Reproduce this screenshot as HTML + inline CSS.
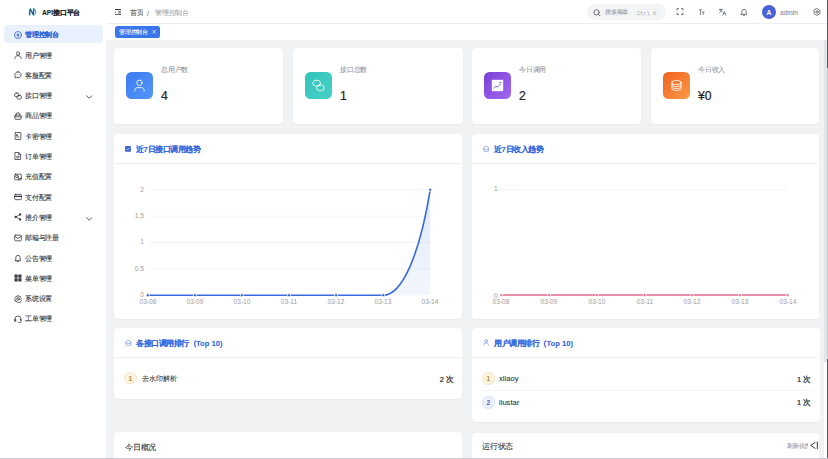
<!DOCTYPE html>
<html><head><meta charset="utf-8">
<style>
*{box-sizing:border-box;margin:0;padding:0}
html,body{width:828px;height:459px;overflow:hidden;background:#fff;font-family:"Liberation Sans",sans-serif;color:#303133}
.abs{position:absolute}
.t{position:absolute;white-space:nowrap}
.card{position:absolute;background:#fff;border-radius:4px;box-shadow:0 0.5px 1.5px rgba(0,0,0,.035)}
</style></head><body>

<div class="abs" style="left:106.4px;top:39.9px;width:717.6px;height:419.1px;background:#f1f2f4"></div>
<div class="abs" style="left:107px;top:22.6px;width:721px;height:0.8px;background:#eceef2"></div>
<svg class="abs" style="left:0;top:0;width:50px;height:24px" viewBox="0 0 50 24"><ellipse cx="32" cy="11.9" rx="3.9" ry="3.7" fill="#d6f1f8"/><path d="M29.4 15.3L30.2 8.8L33.3 14.7L33.9 8.4" fill="none" stroke="#2b5a84" stroke-width="1.3" stroke-linejoin="round"/><path d="M34 8.7C36.4 9.9 36.4 14.3 33.6 15.3" fill="none" stroke="#4f9cc0" stroke-width="1"/></svg>
<div class="t" style="left:42.00px;top:7.71px;font-size:26.60px;line-height:39.90px;color:#22262c;font-weight:bold;transform:scale(0.25,0.25);transform-origin:0 0;-webkit-text-stroke:0.45px #22262c">API接口平台</div>
<div class="abs" style="left:4.3px;top:24.90px;width:98.7px;height:18.6px;border-radius:4px;background:#e8f1fd"></div>
<div class="abs" style="color:#2d62d6"><svg class="abs" style="left:14.2px;top:30.6px;width:8px;height:8px;stroke-width:2.4" viewBox="0 0 24 24" fill="none" stroke="currentColor" stroke-width="2" stroke-linecap="round" stroke-linejoin="round"><circle cx="12" cy="12" r="10.5"/><path d="M12 18v-6"/><path d="M8 12.5l4-5 4 5z" fill="currentColor" stroke-width="1"/></svg></div>
<div class="t" style="left:24.50px;top:30.24px;font-size:27.00px;line-height:40.50px;color:#2d62d6;font-weight:bold;transform:scale(0.25,0.25);transform-origin:0 0;-webkit-text-stroke:0.3px #2d62d6">管理控制台</div>
<div class="abs" style="color:#363a41"><svg class="abs" style="left:14.2px;top:50.9px;width:8px;height:8px;stroke-width:2.4" viewBox="0 0 24 24" fill="none" stroke="currentColor" stroke-width="2" stroke-linecap="round" stroke-linejoin="round"><circle cx="12" cy="7.5" r="5"/><path d="M2.5 22.5c0-5.500 4.3-8.500 9.5-8.500s9.5 3 9.5 8.500"/></svg></div>
<div class="t" style="left:24.50px;top:50.54px;font-size:27.00px;line-height:40.50px;color:#363a41;font-weight:400;transform:scale(0.25,0.25);transform-origin:0 0;-webkit-text-stroke:0.45px #363a41">用户管理</div>
<div class="abs" style="color:#363a41"><svg class="abs" style="left:14.2px;top:71.2px;width:8px;height:8px;stroke-width:2.4" viewBox="0 0 24 24" fill="none" stroke="currentColor" stroke-width="2" stroke-linecap="round" stroke-linejoin="round"><path d="M12 2.5c5.2 0 9.5 3.9 9.5 8.8s-4.3 8.8-9.5 8.8c-1.5 0-2.9-.3-4.2-.9L3 21l1.2-4.3c-1-1.5-1.7-3.4-1.7-5.4 0-4.900 4.300-8.800 9.500-8.800z"/><circle cx="8" cy="11.3" r="1.1" fill="currentColor" stroke="none"/><circle cx="12" cy="11.3" r="1.1" fill="currentColor" stroke="none"/><circle cx="16" cy="11.3" r="1.1" fill="currentColor" stroke="none"/></svg></div>
<div class="t" style="left:24.50px;top:70.84px;font-size:27.00px;line-height:40.50px;color:#363a41;font-weight:400;transform:scale(0.25,0.25);transform-origin:0 0;-webkit-text-stroke:0.45px #363a41">客服配置</div>
<div class="abs" style="color:#363a41"><svg class="abs" style="left:14.2px;top:91.5px;width:8px;height:8px;stroke-width:2.4" viewBox="0 0 24 24" fill="none" stroke="currentColor" stroke-width="2" stroke-linecap="round" stroke-linejoin="round"><rect x="1.5" y="3" width="14" height="11" rx="5.5"/><rect x="8.5" y="10" width="14" height="11" rx="5.5"/></svg></div>
<div class="t" style="left:24.50px;top:91.14px;font-size:27.00px;line-height:40.50px;color:#363a41;font-weight:400;transform:scale(0.25,0.25);transform-origin:0 0;-webkit-text-stroke:0.45px #363a41">接口管理</div>
<div class="abs" style="color:#4a4f57"><svg class="abs" style="left:85.8px;top:95.0px;width:6.4px;height:4px;stroke-width:3.4" viewBox="0 0 24 13" fill="none" stroke="currentColor" stroke-width="2" stroke-linecap="round" stroke-linejoin="round"><path d="M2 2l10 9 10-9"/></svg></div>
<div class="abs" style="color:#363a41"><svg class="abs" style="left:14.2px;top:111.8px;width:8px;height:8px;stroke-width:2.4" viewBox="0 0 24 24" fill="none" stroke="currentColor" stroke-width="2" stroke-linecap="round" stroke-linejoin="round"><rect x="2.5" y="9" width="19" height="13" rx="2"/><path d="M7 9V7a5 5 0 0 1 10 0v2M2.5 14.500h19"/></svg></div>
<div class="t" style="left:24.50px;top:111.44px;font-size:27.00px;line-height:40.50px;color:#363a41;font-weight:400;transform:scale(0.25,0.25);transform-origin:0 0;-webkit-text-stroke:0.45px #363a41">商品管理</div>
<div class="abs" style="color:#363a41"><svg class="abs" style="left:14.2px;top:132.1px;width:8px;height:8px;stroke-width:2.4" viewBox="0 0 24 24" fill="none" stroke="currentColor" stroke-width="2" stroke-linecap="round" stroke-linejoin="round"><rect x="3.500" y="1.500" width="17" height="21" rx="1.500"/><path d="M8 8h3v3H8zM8 15h7"/></svg></div>
<div class="t" style="left:24.50px;top:131.74px;font-size:27.00px;line-height:40.50px;color:#363a41;font-weight:400;transform:scale(0.25,0.25);transform-origin:0 0;-webkit-text-stroke:0.45px #363a41">卡密管理</div>
<div class="abs" style="color:#363a41"><svg class="abs" style="left:14.2px;top:152.4px;width:8px;height:8px;stroke-width:2.4" viewBox="0 0 24 24" fill="none" stroke="currentColor" stroke-width="2" stroke-linecap="round" stroke-linejoin="round"><path d="M4 1.500h10l6 6v15H4z"/><path d="M14 1.500v6h6M8 13h8M8 17.500h6"/></svg></div>
<div class="t" style="left:24.50px;top:152.04px;font-size:27.00px;line-height:40.50px;color:#363a41;font-weight:400;transform:scale(0.25,0.25);transform-origin:0 0;-webkit-text-stroke:0.45px #363a41">订单管理</div>
<div class="abs" style="color:#363a41"><svg class="abs" style="left:14.2px;top:172.7px;width:8px;height:8px;stroke-width:2.4" viewBox="0 0 24 24" fill="none" stroke="currentColor" stroke-width="2" stroke-linecap="round" stroke-linejoin="round"><rect x="2" y="3.500" width="20" height="17" rx="2.500"/><circle cx="9" cy="10" r="4"/><path d="M12 13l3 3M14 20.500v-4h8"/></svg></div>
<div class="t" style="left:24.50px;top:172.34px;font-size:27.00px;line-height:40.50px;color:#363a41;font-weight:400;transform:scale(0.25,0.25);transform-origin:0 0;-webkit-text-stroke:0.45px #363a41">充值配置</div>
<div class="abs" style="color:#363a41"><svg class="abs" style="left:14.2px;top:193.0px;width:8px;height:8px;stroke-width:2.4" viewBox="0 0 24 24" fill="none" stroke="currentColor" stroke-width="2" stroke-linecap="round" stroke-linejoin="round"><rect x="2" y="4" width="20" height="16" rx="2.500"/><path d="M2 10h20" stroke-width="4"/></svg></div>
<div class="t" style="left:24.50px;top:192.64px;font-size:27.00px;line-height:40.50px;color:#363a41;font-weight:400;transform:scale(0.25,0.25);transform-origin:0 0;-webkit-text-stroke:0.45px #363a41">支付配置</div>
<div class="abs" style="color:#363a41"><svg class="abs" style="left:14.2px;top:213.3px;width:8px;height:8px;stroke-width:2.4" viewBox="0 0 24 24" fill="none" stroke="currentColor" stroke-width="2" stroke-linecap="round" stroke-linejoin="round"><circle cx="18.500" cy="4.500" r="3.500" fill="currentColor" stroke="none"/><circle cx="5" cy="12" r="3.500" fill="currentColor" stroke="none"/><circle cx="18.500" cy="19.500" r="3.500" fill="currentColor" stroke="none"/><path d="M5 12l13.500 7.500M5 12l13.500-7.500" stroke-width="2.200"/></svg></div>
<div class="t" style="left:24.50px;top:212.94px;font-size:27.00px;line-height:40.50px;color:#363a41;font-weight:400;transform:scale(0.25,0.25);transform-origin:0 0;-webkit-text-stroke:0.45px #363a41">推介管理</div>
<div class="abs" style="color:#4a4f57"><svg class="abs" style="left:85.8px;top:216.8px;width:6.4px;height:4px;stroke-width:3.4" viewBox="0 0 24 13" fill="none" stroke="currentColor" stroke-width="2" stroke-linecap="round" stroke-linejoin="round"><path d="M2 2l10 9 10-9"/></svg></div>
<div class="abs" style="color:#363a41"><svg class="abs" style="left:14.2px;top:233.6px;width:8px;height:8px;stroke-width:2.4" viewBox="0 0 24 24" fill="none" stroke="currentColor" stroke-width="2" stroke-linecap="round" stroke-linejoin="round"><rect x="2" y="3.500" width="20" height="17" rx="3"/><path d="M2.500 7l9.500 6.500L21.500 7"/></svg></div>
<div class="t" style="left:24.50px;top:233.24px;font-size:27.00px;line-height:40.50px;color:#363a41;font-weight:400;transform:scale(0.25,0.25);transform-origin:0 0;-webkit-text-stroke:0.45px #363a41">邮箱与注册</div>
<div class="abs" style="color:#363a41"><svg class="abs" style="left:14.2px;top:253.9px;width:8px;height:8px;stroke-width:2.4" viewBox="0 0 24 24" fill="none" stroke="currentColor" stroke-width="2" stroke-linecap="round" stroke-linejoin="round"><path d="M5.500 18V10.500a6.500 6.500 0 0 1 13 0V18l2 2H3.500z"/><path d="M10 22.500h4"/></svg></div>
<div class="t" style="left:24.50px;top:253.54px;font-size:27.00px;line-height:40.50px;color:#363a41;font-weight:400;transform:scale(0.25,0.25);transform-origin:0 0;-webkit-text-stroke:0.45px #363a41">公告管理</div>
<div class="abs" style="color:#363a41"><svg class="abs" style="left:14.2px;top:274.2px;width:8px;height:8px;stroke-width:2.4" viewBox="0 0 24 24" fill="none" stroke="currentColor" stroke-width="2" stroke-linecap="round" stroke-linejoin="round"><rect x="1.500" y="1.500" width="9.500" height="9.500" rx="1" fill="currentColor" stroke="none"/><rect x="13" y="1.500" width="9.500" height="9.500" rx="1" fill="currentColor" stroke="none"/><rect x="1.500" y="13" width="9.500" height="9.500" rx="1" fill="currentColor" stroke="none"/><rect x="13" y="13" width="9.500" height="9.500" rx="1" fill="currentColor" stroke="none"/></svg></div>
<div class="t" style="left:24.50px;top:273.84px;font-size:27.00px;line-height:40.50px;color:#363a41;font-weight:400;transform:scale(0.25,0.25);transform-origin:0 0;-webkit-text-stroke:0.45px #363a41">菜单管理</div>
<div class="abs" style="color:#363a41"><svg class="abs" style="left:14.2px;top:294.5px;width:8px;height:8px;stroke-width:2.4" viewBox="0 0 24 24" fill="none" stroke="currentColor" stroke-width="2" stroke-linecap="round" stroke-linejoin="round"><path d="M12 1.500l3 2.300 3.700.3.800 3.600L22 10.500l-1.300 3.500 1.300 3.500-2.500 2.700-.8 3.600-3.700.3L12 22.500l-3-2.300-3.700-.3-.8-3.600L2 17.500 3.300 14 2 10.500l2.500-2.700.8-3.600 3.700-.3z" transform="scale(.98) translate(.25 .25)"/><circle cx="12" cy="12" r="4"/></svg></div>
<div class="t" style="left:24.50px;top:294.14px;font-size:27.00px;line-height:40.50px;color:#363a41;font-weight:400;transform:scale(0.25,0.25);transform-origin:0 0;-webkit-text-stroke:0.45px #363a41">系统设置</div>
<div class="abs" style="color:#363a41"><svg class="abs" style="left:14.2px;top:314.8px;width:8px;height:8px;stroke-width:2.4" viewBox="0 0 24 24" fill="none" stroke="currentColor" stroke-width="2" stroke-linecap="round" stroke-linejoin="round"><path d="M3 16v-4a9 9 0 0 1 18 0v4"/><path d="M3 13.500h2.500v5.500H3zM18.500 13.500H21v5.500a3.500 3.500 0 0 1-3.500 3.500H14"/></svg></div>
<div class="t" style="left:24.50px;top:314.44px;font-size:27.00px;line-height:40.50px;color:#363a41;font-weight:400;transform:scale(0.25,0.25);transform-origin:0 0;-webkit-text-stroke:0.45px #363a41">工单管理</div>
<svg class="abs" style="left:115px;top:8.8px;width:6.2px;height:6.4px" viewBox="0 0 6.2 6.4"><rect x="0" y="0" width="6.2" height="1.05" fill="#2f3237"/><rect x="0" y="5.25" width="6.2" height="1.05" fill="#2f3237"/><rect x="3.2" y="2.25" width="3" height="0.9" fill="#55585e"/><rect x="3.2" y="3.45" width="3" height="0.9" fill="#55585e"/><path d="M0.1 2.4L1.2 3.3L0.1 4.2z" fill="#2f3237"/></svg>
<div class="t" style="left:129.70px;top:8.05px;font-size:26.40px;line-height:39.60px;color:#50545b;font-weight:400;transform:scale(0.25,0.25);transform-origin:0 0;-webkit-text-stroke:0.4px #50545b">首页</div>
<div class="t" style="left:147.20px;top:8.75px;font-size:26.40px;line-height:39.60px;color:#8d9199;font-weight:400;transform:scale(0.25,0.25);transform-origin:0 0;-webkit-text-stroke:0.6px #8d9199">/</div>
<div class="t" style="left:154.80px;top:7.97px;font-size:26.80px;line-height:40.20px;color:#a3a6ad;font-weight:400;transform:scale(0.25,0.25);transform-origin:0 0;-webkit-text-stroke:0.35px #a3a6ad">管理控制台</div>
<div class="abs" style="left:586.5px;top:4.3px;width:79px;height:15.3px;border-radius:8px;background:#f4f5f7"></div>
<div style="color:#555a62"><svg class="abs" style="left:592.8px;top:8.8px;width:8px;height:7.6px;stroke-width:2.8" viewBox="0 0 24 24" fill="none" stroke="currentColor" stroke-width="2" stroke-linecap="round" stroke-linejoin="round"><circle cx="10.5" cy="10.5" r="8.3"/><path d="M17 17l4.5 4.5"/></svg></div>
<div class="t" style="left:605.30px;top:7.99px;font-size:23.00px;line-height:34.50px;color:#9ea2a9;font-weight:400;transform:scale(0.25,0.25);transform-origin:0 0;-webkit-text-stroke:0.4px #9ea2a9">搜索菜单</div>
<div class="abs" style="left:635.2px;top:8.6px;width:23.2px;height:7px;border-radius:2px;background:#fbfbfc;border:0.5px solid #eceef1"></div>
<div class="t" style="left:635.20px;top:8.55px;font-size:21.60px;line-height:32.40px;color:#a3a6ad;font-weight:400;transform:scale(0.25,0.25);transform-origin:0 0;width:92.80px;text-align:center;font-family:'Liberation Mono',monospace;-webkit-text-stroke:0.2px #a3a6ad">Ctrl K</div>
<div style="color:#555a62"><svg class="abs" style="left:675.8px;top:8.4px;width:8px;height:7.2px" viewBox="0 0 24 24" fill="none" stroke="currentColor" stroke-width="2" stroke-linecap="round" stroke-linejoin="round"><path d="M2 7V2h5M17 2h5v5M22 17v5h-5M7 22H2v-5" stroke-width="3"/></svg></div>
<div style="color:#555a62"><svg class="abs" style="left:697.6px;top:8.6px;width:7.4px;height:6.6px;stroke-width:2.6;stroke-linecap:butt" viewBox="0 0 24 24" fill="none" stroke="currentColor" stroke-width="2" stroke-linecap="round" stroke-linejoin="round"><path d="M1.5 3h12M7.5 3v19M12.5 11h10M17.5 11v11"/></svg></div>
<div style="color:#555a62"><svg class="abs" style="left:718px;top:8px;width:9px;height:8px" viewBox="0 0 24 24" fill="none" stroke="currentColor" stroke-width="2" stroke-linecap="round" stroke-linejoin="round"><path d="M2 5h10M7 3v2M4 5c1 4 4 6 7 7M10 5c-1 4-4 6-7 8M13 21l4.5-11 4.5 11M14.5 17h6"/></svg></div>
<div style="color:#555a62"><svg class="abs" style="left:739.8px;top:8.2px;width:8px;height:8px;stroke-width:2.4" viewBox="0 0 24 24" fill="none" stroke="currentColor" stroke-width="2" stroke-linecap="round" stroke-linejoin="round"><path d="M5.5 17.5V10.5a6.5 6.5 0 0 1 13 0v7l2 1.5H3.5z"/><path d="M10 22h4"/></svg></div>
<div class="abs" style="left:762.3px;top:4.8px;width:13.8px;height:13.8px;border-radius:50%;background:#4a62d8"></div>
<div class="t" style="left:762.30px;top:7.50px;font-size:27.20px;line-height:40.80px;color:#fff;font-weight:bold;transform:scale(0.25,0.25);transform-origin:0 0;width:55.20px;text-align:center">A</div>
<div class="t" style="left:780.00px;top:6.80px;font-size:30.40px;line-height:45.60px;color:#7d828a;font-weight:400;transform:scale(0.215,0.25);transform-origin:0 0;-webkit-text-stroke:0.15px #7d828a">admin</div>
<div style="color:#555a62"><svg class="abs" style="left:813px;top:8.2px;width:8px;height:8px;stroke-width:2.4" viewBox="0 0 24 24" fill="none" stroke="currentColor" stroke-width="2" stroke-linecap="round" stroke-linejoin="round"><path d="M12 1.8l8.8 5.1v10.2L12 22.2l-8.8-5.1V6.9z"/><circle cx="12" cy="12" r="3.6"/></svg></div>
<div class="abs" style="left:114.6px;top:26.1px;width:45.2px;height:11.6px;border-radius:2.5px;background:#3a76ec"></div>
<div class="t" style="left:118.90px;top:27.55px;font-size:23.20px;line-height:34.80px;color:#fff;font-weight:400;transform:scale(0.25,0.25);transform-origin:0 0;-webkit-text-stroke:0.3px #fff">管理控制台</div>
<svg class="abs" style="left:0;top:0;width:200px;height:40px" viewBox="0 0 200 40"><path d="M152.5 29.9L155.9 33.6M155.9 29.9L152.5 33.6" stroke="#fff" stroke-width="0.75" stroke-opacity=".9"/></svg>
<div class="card" style="left:114.2px;top:47.8px;width:169.3px;height:76.7px"></div>
<div class="abs" style="left:126.00px;top:72.4px;width:26.8px;height:26.9px;border-radius:5.5px;background:linear-gradient(135deg,#3c7cf2,#5396f6)"></div>
<div style="color:#fff"><svg class="abs" style="left:132.9px;top:79.3px;width:13px;height:13px;stroke-width:1.6" viewBox="0 0 24 24" fill="none" stroke="currentColor" stroke-width="2" stroke-linecap="round" stroke-linejoin="round"><circle cx="12" cy="7" r="5"/><path d="M3.5 22.5v-2c0-2.500 2-4.500 4.500-4.500h8c2.500 0 4.500 2 4.500 4.500v2"/></svg></div>
<div class="t" style="left:160.80px;top:64.74px;font-size:27.00px;line-height:40.50px;color:#8d9199;font-weight:400;transform:scale(0.25,0.25);transform-origin:0 0;-webkit-text-stroke:0.15px #8d9199">总用户数</div>
<div class="t" style="left:161.20px;top:87.15px;font-size:48.80px;line-height:73.20px;color:#1f2329;font-weight:400;transform:scale(0.25,0.25);transform-origin:0 0;-webkit-text-stroke:0.9px #1f2329">4</div>
<div class="card" style="left:293.3px;top:47.8px;width:169.5px;height:76.7px"></div>
<div class="abs" style="left:305.10px;top:72.4px;width:26.8px;height:26.9px;border-radius:5.5px;background:linear-gradient(135deg,#34c4bc,#45d0c6)"></div>
<div style="color:#fff"><svg class="abs" style="left:312.0px;top:79.3px;width:13px;height:13px;stroke-width:1.6" viewBox="0 0 24 24" fill="none" stroke="currentColor" stroke-width="2" stroke-linecap="round" stroke-linejoin="round"><rect x="1.5" y="2.5" width="14" height="10.5" rx="5.25"/><rect x="8.5" y="11" width="14" height="10.5" rx="5.25"/></svg></div>
<div class="t" style="left:339.90px;top:64.74px;font-size:27.00px;line-height:40.50px;color:#8d9199;font-weight:400;transform:scale(0.25,0.25);transform-origin:0 0;-webkit-text-stroke:0.15px #8d9199">接口总数</div>
<div class="t" style="left:340.30px;top:87.15px;font-size:48.80px;line-height:73.20px;color:#1f2329;font-weight:400;transform:scale(0.25,0.25);transform-origin:0 0;-webkit-text-stroke:0.9px #1f2329">1</div>
<div class="card" style="left:472.0px;top:47.8px;width:168.9px;height:76.7px"></div>
<div class="abs" style="left:483.80px;top:72.4px;width:26.8px;height:26.9px;border-radius:5.5px;background:linear-gradient(135deg,#7a40d6,#a168f0)"></div>
<div style="color:#fff"><svg class="abs" style="left:490.7px;top:79.3px;width:13px;height:13px;stroke-width:1.6" viewBox="0 0 24 24" fill="none" stroke="currentColor" stroke-width="2" stroke-linecap="round" stroke-linejoin="round"><rect x="1.5" y="1.5" width="21" height="21" fill="#fff" stroke="none"/><path d="M5 17l4-4 3 2 6-6M16 6.5l2.5-.5" stroke="#6a45c8" stroke-width="1.6"/></svg></div>
<div class="t" style="left:518.60px;top:64.74px;font-size:27.00px;line-height:40.50px;color:#8d9199;font-weight:400;transform:scale(0.25,0.25);transform-origin:0 0;-webkit-text-stroke:0.15px #8d9199">今日调用</div>
<div class="t" style="left:519.00px;top:87.15px;font-size:48.80px;line-height:73.20px;color:#1f2329;font-weight:400;transform:scale(0.25,0.25);transform-origin:0 0;-webkit-text-stroke:0.9px #1f2329">2</div>
<div class="card" style="left:651.0px;top:47.8px;width:168.2px;height:76.7px"></div>
<div class="abs" style="left:662.80px;top:72.4px;width:26.8px;height:26.9px;border-radius:5.5px;background:linear-gradient(135deg,#f2621e,#fa9a48)"></div>
<div style="color:#fff"><svg class="abs" style="left:669.7px;top:79.3px;width:13px;height:13px;stroke-width:1.6" viewBox="0 0 24 24" fill="none" stroke="currentColor" stroke-width="2" stroke-linecap="round" stroke-linejoin="round"><ellipse cx="12" cy="6.5" rx="8.5" ry="3.8"/><path d="M3.5 6.5v11c0 2.100 3.800 3.800 8.500 3.800s8.500-1.700 8.500-3.800v-11M3.5 10.300c0 2.100 3.800 3.800 8.500 3.800s8.500-1.700 8.500-3.800M3.5 14c0 2.100 3.800 3.800 8.500 3.800s8.500-1.700 8.500-3.800"/></svg></div>
<div class="t" style="left:697.60px;top:64.74px;font-size:27.00px;line-height:40.50px;color:#8d9199;font-weight:400;transform:scale(0.25,0.25);transform-origin:0 0;-webkit-text-stroke:0.15px #8d9199">今日收入</div>
<div class="t" style="left:698.00px;top:87.15px;font-size:48.80px;line-height:73.20px;color:#1f2329;font-weight:400;transform:scale(0.25,0.25);transform-origin:0 0;-webkit-text-stroke:0.9px #1f2329">¥0</div>
<div class="card" style="left:114.2px;top:134.3px;width:348.3px;height:184.5px"></div>
<div class="abs" style="left:114.2px;top:163.2px;width:348.3px;height:0.8px;background:#eef0f3"></div>
<div class="card" style="left:472.1px;top:134.3px;width:347.3px;height:184.5px"></div>
<div class="abs" style="left:472.1px;top:163.2px;width:347.3px;height:0.8px;background:#eef0f3"></div>
<div style="color:#3a62d8"><svg class="abs" style="left:125.1px;top:146px;width:6px;height:5.8px" viewBox="0 0 24 24" fill="none" stroke="currentColor" stroke-width="2" stroke-linecap="round" stroke-linejoin="round"><rect x="0" y="0" width="24" height="24" rx="2" fill="currentColor" stroke="none"/><path d="M6.5 13l4 3.5 7-8" stroke="#fff" stroke-width="2.6"/></svg></div>
<div class="t" style="left:135.80px;top:143.80px;font-size:30.40px;line-height:45.60px;color:#3466dc;font-weight:bold;transform:scale(0.25,0.25);transform-origin:0 0;-webkit-text-stroke:0.35px #3466dc">近7日接口调用趋势</div>
<div style="color:#7194e8"><svg class="abs" style="left:482.7px;top:145.7px;width:6.2px;height:6.3px;stroke-width:2.8" viewBox="0 0 24 24" fill="none" stroke="currentColor" stroke-width="2" stroke-linecap="round" stroke-linejoin="round"><path d="M3 6c0-2.2 4-4 9-4s9 1.8 9 4v12c0 2.2-4 4-9 4s-9-1.8-9-4z"/><path d="M3 10c0 2.2 4 4 9 4s9-1.8 9-4"/></svg></div>
<div class="t" style="left:493.80px;top:143.80px;font-size:30.40px;line-height:45.60px;color:#3466dc;font-weight:bold;transform:scale(0.25,0.25);transform-origin:0 0;-webkit-text-stroke:0.35px #3466dc">近7日收入趋势</div>
<svg class="abs" style="left:0;top:0;width:828px;height:459px" viewBox="0 0 828 459"><defs><linearGradient id="g1" x1="0" y1="0" x2="0" y2="1"><stop offset="0" stop-color="#3a72e0" stop-opacity=".16"/><stop offset="1" stop-color="#3a72e0" stop-opacity=".06"/></linearGradient></defs><line x1="147.6" x2="430.2" y1="268.8" y2="268.8" stroke="#eef0f3" stroke-width="0.7"/><line x1="147.6" x2="430.2" y1="242.5" y2="242.5" stroke="#eef0f3" stroke-width="0.7"/><line x1="147.6" x2="430.2" y1="216.1" y2="216.1" stroke="#eef0f3" stroke-width="0.7"/><line x1="147.6" x2="430.2" y1="189.8" y2="189.8" stroke="#eef0f3" stroke-width="0.7"/><path d="M383.1 295.2 C403 295.2 420 252 430.2 189.8 L430.2 295.2 Z" fill="url(#g1)"/><path d="M147.6 295.2 L383.1 295.2 C403 295.2 420 252 430.2 189.8" fill="none" stroke="#3a6ae0" stroke-width="1.6"/><circle cx="147.8" cy="295.2" r="1.6" fill="#3a62d8" stroke="#fff" stroke-width="0.8"/><circle cx="194.9" cy="295.2" r="1.6" fill="#3a62d8" stroke="#fff" stroke-width="0.8"/><circle cx="241.9" cy="295.2" r="1.6" fill="#3a62d8" stroke="#fff" stroke-width="0.8"/><circle cx="289.0" cy="295.2" r="1.6" fill="#3a62d8" stroke="#fff" stroke-width="0.8"/><circle cx="336.1" cy="295.2" r="1.6" fill="#3a62d8" stroke="#fff" stroke-width="0.8"/><circle cx="383.1" cy="295.2" r="1.6" fill="#3a62d8" stroke="#fff" stroke-width="0.8"/><circle cx="430.2" cy="189.8" r="1.6" fill="#3a62d8" stroke="#fff" stroke-width="0.8"/><line x1="501.4" x2="787.6" y1="189.6" y2="189.6" stroke="#eef0f3" stroke-width="0.7"/><line x1="501.4" x2="787.6" y1="295.1" y2="295.1" stroke="#e0668a" stroke-width="1.5"/><circle cx="501.4" cy="295.1" r="1.5" fill="#e0668a" stroke="#fff" stroke-width="0.8"/><circle cx="549.1" cy="295.1" r="1.5" fill="#e0668a" stroke="#fff" stroke-width="0.8"/><circle cx="596.8" cy="295.1" r="1.5" fill="#e0668a" stroke="#fff" stroke-width="0.8"/><circle cx="644.5" cy="295.1" r="1.5" fill="#e0668a" stroke="#fff" stroke-width="0.8"/><circle cx="692.2" cy="295.1" r="1.5" fill="#e0668a" stroke="#fff" stroke-width="0.8"/><circle cx="739.9" cy="295.1" r="1.5" fill="#e0668a" stroke="#fff" stroke-width="0.8"/><circle cx="787.6" cy="295.1" r="1.5" fill="#e0668a" stroke="#fff" stroke-width="0.8"/></svg>
<div class="t" style="left:110.00px;top:289.95px;font-size:26.40px;line-height:39.60px;color:#9a9da4;font-weight:400;transform:scale(0.25,0.25);transform-origin:0 0;width:135.60px;text-align:right">0</div>
<div class="t" style="left:110.00px;top:263.55px;font-size:26.40px;line-height:39.60px;color:#9a9da4;font-weight:400;transform:scale(0.25,0.25);transform-origin:0 0;width:135.60px;text-align:right">0.5</div>
<div class="t" style="left:110.00px;top:237.25px;font-size:26.40px;line-height:39.60px;color:#9a9da4;font-weight:400;transform:scale(0.25,0.25);transform-origin:0 0;width:135.60px;text-align:right">1</div>
<div class="t" style="left:110.00px;top:210.85px;font-size:26.40px;line-height:39.60px;color:#9a9da4;font-weight:400;transform:scale(0.25,0.25);transform-origin:0 0;width:135.60px;text-align:right">1.5</div>
<div class="t" style="left:110.00px;top:184.55px;font-size:26.40px;line-height:39.60px;color:#9a9da4;font-weight:400;transform:scale(0.25,0.25);transform-origin:0 0;width:135.60px;text-align:right">2</div>
<div class="t" style="left:470.00px;top:184.35px;font-size:26.40px;line-height:39.60px;color:#9a9da4;font-weight:400;transform:scale(0.25,0.25);transform-origin:0 0;width:110.40px;text-align:right">1</div>
<div class="t" style="left:470.00px;top:290.65px;font-size:26.40px;line-height:39.60px;color:#9a9da4;font-weight:400;transform:scale(0.25,0.25);transform-origin:0 0;width:110.40px;text-align:right">0</div>
<div class="t" style="left:132.80px;top:296.65px;font-size:26.40px;line-height:39.60px;color:#9a9da4;font-weight:400;transform:scale(0.25,0.25);transform-origin:0 0;width:120.00px;text-align:center">03-08</div>
<div class="t" style="left:486.40px;top:296.65px;font-size:26.40px;line-height:39.60px;color:#9a9da4;font-weight:400;transform:scale(0.25,0.25);transform-origin:0 0;width:120.00px;text-align:center">03-08</div>
<div class="t" style="left:179.87px;top:296.65px;font-size:26.40px;line-height:39.60px;color:#9a9da4;font-weight:400;transform:scale(0.25,0.25);transform-origin:0 0;width:120.00px;text-align:center">03-09</div>
<div class="t" style="left:534.10px;top:296.65px;font-size:26.40px;line-height:39.60px;color:#9a9da4;font-weight:400;transform:scale(0.25,0.25);transform-origin:0 0;width:120.00px;text-align:center">03-09</div>
<div class="t" style="left:226.94px;top:296.65px;font-size:26.40px;line-height:39.60px;color:#9a9da4;font-weight:400;transform:scale(0.25,0.25);transform-origin:0 0;width:120.00px;text-align:center">03-10</div>
<div class="t" style="left:581.80px;top:296.65px;font-size:26.40px;line-height:39.60px;color:#9a9da4;font-weight:400;transform:scale(0.25,0.25);transform-origin:0 0;width:120.00px;text-align:center">03-10</div>
<div class="t" style="left:274.01px;top:296.65px;font-size:26.40px;line-height:39.60px;color:#9a9da4;font-weight:400;transform:scale(0.25,0.25);transform-origin:0 0;width:120.00px;text-align:center">03-11</div>
<div class="t" style="left:629.50px;top:296.65px;font-size:26.40px;line-height:39.60px;color:#9a9da4;font-weight:400;transform:scale(0.25,0.25);transform-origin:0 0;width:120.00px;text-align:center">03-11</div>
<div class="t" style="left:321.08px;top:296.65px;font-size:26.40px;line-height:39.60px;color:#9a9da4;font-weight:400;transform:scale(0.25,0.25);transform-origin:0 0;width:120.00px;text-align:center">03-12</div>
<div class="t" style="left:677.20px;top:296.65px;font-size:26.40px;line-height:39.60px;color:#9a9da4;font-weight:400;transform:scale(0.25,0.25);transform-origin:0 0;width:120.00px;text-align:center">03-12</div>
<div class="t" style="left:368.15px;top:296.65px;font-size:26.40px;line-height:39.60px;color:#9a9da4;font-weight:400;transform:scale(0.25,0.25);transform-origin:0 0;width:120.00px;text-align:center">03-13</div>
<div class="t" style="left:724.90px;top:296.65px;font-size:26.40px;line-height:39.60px;color:#9a9da4;font-weight:400;transform:scale(0.25,0.25);transform-origin:0 0;width:120.00px;text-align:center">03-13</div>
<div class="t" style="left:415.22px;top:296.65px;font-size:26.40px;line-height:39.60px;color:#9a9da4;font-weight:400;transform:scale(0.25,0.25);transform-origin:0 0;width:120.00px;text-align:center">03-14</div>
<div class="t" style="left:772.60px;top:296.65px;font-size:26.40px;line-height:39.60px;color:#9a9da4;font-weight:400;transform:scale(0.25,0.25);transform-origin:0 0;width:120.00px;text-align:center">03-14</div>
<div class="card" style="left:114.2px;top:327.9px;width:348.3px;height:70.7px"></div>
<div class="abs" style="left:114.2px;top:357px;width:348.3px;height:0.8px;background:#eef0f3"></div>
<div class="card" style="left:472.1px;top:327.9px;width:347.5px;height:94.5px"></div>
<div class="abs" style="left:472.1px;top:357px;width:347.3px;height:0.8px;background:#eef0f3"></div>
<div class="abs" style="left:480px;top:389.8px;width:334px;height:0.6px;background:#f5f6f8"></div>
<div style="color:#7194e8"><svg class="abs" style="left:125.1px;top:339.5px;width:6.7px;height:6.3px;stroke-width:2.8" viewBox="0 0 24 24" fill="none" stroke="currentColor" stroke-width="2" stroke-linecap="round" stroke-linejoin="round"><path d="M3 6c0-2.2 4-4 9-4s9 1.8 9 4v12c0 2.2-4 4-9 4s-9-1.8-9-4z"/><path d="M3 10c0 2.2 4 4 9 4s9-1.8 9-4"/></svg></div>
<div class="t" style="left:136.20px;top:337.70px;font-size:30.40px;line-height:45.60px;color:#3466dc;font-weight:bold;transform:scale(0.25,0.25);transform-origin:0 0;-webkit-text-stroke:0.35px #3466dc">各接口调用排行（Top 10)</div>
<div style="color:#7194e8"><svg class="abs" style="left:482.7px;top:339.4px;width:6.2px;height:6.4px;stroke-width:2.8" viewBox="0 0 24 24" fill="none" stroke="currentColor" stroke-width="2" stroke-linecap="round" stroke-linejoin="round"><circle cx="12" cy="7.5" r="5.5"/><path d="M2.5 23c0-5 4.3-8.5 9.5-8.5s9.5 3.5 9.5 8.5"/></svg></div>
<div class="t" style="left:493.60px;top:337.70px;font-size:30.40px;line-height:45.60px;color:#3466dc;font-weight:bold;transform:scale(0.25,0.25);transform-origin:0 0;-webkit-text-stroke:0.35px #3466dc">用户调用排行（Top 10)</div>
<div class="abs" style="left:124.1px;top:371.9px;width:12.6px;height:12.6px;border-radius:50%;background:#fdf3de;border:0.7px solid #f6e6c2"></div>
<div class="t" style="left:124.10px;top:374.15px;font-size:26.40px;line-height:39.60px;color:#b8893a;font-weight:bold;transform:scale(0.25,0.25);transform-origin:0 0;width:50.40px;text-align:center">1</div>
<div class="t" style="left:142.30px;top:372.88px;font-size:28.40px;line-height:42.60px;color:#303133;font-weight:400;transform:scale(0.25,0.25);transform-origin:0 0;-webkit-text-stroke:0.3px #303133">去水印解析</div>
<div class="t" style="left:402.60px;top:373.27px;font-size:31.60px;line-height:47.40px;color:#25282e;font-weight:bold;transform:scale(0.2375,0.25);transform-origin:0 0;width:212.80px;text-align:right"><span style="font-weight:400;-webkit-text-stroke:0.9px #25282e">2</span><span style="margin-left:9px"></span>次</div>
<div class="abs" style="left:482px;top:372.1px;width:12.6px;height:12.6px;border-radius:50%;background:#fdf3de;border:0.7px solid #f6e6c2"></div>
<div class="t" style="left:482.00px;top:374.35px;font-size:26.40px;line-height:39.60px;color:#b8893a;font-weight:bold;transform:scale(0.25,0.25);transform-origin:0 0;width:50.40px;text-align:center">1</div>
<div class="t" style="left:499.10px;top:372.70px;font-size:30.40px;line-height:45.60px;color:#303133;font-weight:400;transform:scale(0.25,0.25);transform-origin:0 0;-webkit-text-stroke:0.3px #303133">xliaoy</div>
<div class="t" style="left:762.60px;top:373.27px;font-size:31.60px;line-height:47.40px;color:#25282e;font-weight:bold;transform:scale(0.2375,0.25);transform-origin:0 0;width:202.00px;text-align:right"><span style="font-weight:400;-webkit-text-stroke:0.9px #25282e">1</span><span style="margin-left:9px"></span>次</div>
<div class="abs" style="left:482px;top:396.0px;width:12.6px;height:12.6px;border-radius:50%;background:#eaf1fd;border:0.7px solid #d6e3f8"></div>
<div class="t" style="left:482.00px;top:398.25px;font-size:26.40px;line-height:39.60px;color:#4a66b0;font-weight:bold;transform:scale(0.25,0.25);transform-origin:0 0;width:50.40px;text-align:center">2</div>
<div class="t" style="left:499.10px;top:396.60px;font-size:30.40px;line-height:45.60px;color:#303133;font-weight:400;transform:scale(0.25,0.25);transform-origin:0 0;-webkit-text-stroke:0.3px #303133">liustar</div>
<div class="t" style="left:762.60px;top:396.27px;font-size:31.60px;line-height:47.40px;color:#25282e;font-weight:bold;transform:scale(0.2375,0.25);transform-origin:0 0;width:202.00px;text-align:right"><span style="font-weight:400;-webkit-text-stroke:0.9px #25282e">1</span><span style="margin-left:9px"></span>次</div>
<div class="card" style="left:114.2px;top:432.4px;width:348.3px;height:40px"></div>
<div class="card" style="left:472.1px;top:432.8px;width:347.3px;height:40px"></div>
<div class="t" style="left:124.60px;top:441.73px;font-size:30.80px;line-height:46.20px;color:#303133;font-weight:400;transform:scale(0.25,0.25);transform-origin:0 0;-webkit-text-stroke:0.3px #303133">今日概况</div>
<div class="t" style="left:481.60px;top:441.23px;font-size:30.80px;line-height:46.20px;color:#303133;font-weight:400;transform:scale(0.25,0.25);transform-origin:0 0;-webkit-text-stroke:0.3px #303133">运行状态</div>
<div class="t" style="left:787.20px;top:442.33px;font-size:22.80px;line-height:34.20px;color:#8d9199;font-weight:400;transform:scale(0.25,0.25);transform-origin:0 0;-webkit-text-stroke:0.2px #8d9199">刷新状态</div>
<div class="abs" style="left:808.3px;top:440px;width:2.5px;height:12px;background:#fff"></div>
<svg class="abs" style="left:0;top:0;width:828px;height:459px" viewBox="0 0 828 459"><path d="M815.4 442.3L810.7 445.4L815.4 448.5" fill="none" stroke="#2c2f35" stroke-width="0.95"/><path d="M817.3 441.6V449.2" stroke="#2c2f35" stroke-width="0.95"/></svg>
<div class="abs" style="left:824px;top:40px;width:2.5px;height:322px;background:#e2e4e8"></div>
<div class="abs" style="left:826.5px;top:0;width:1.5px;height:68px;background:#55585e"></div>
<div class="abs" style="left:826.5px;top:68px;width:1.5px;height:291px;background:#c5c9d0"></div>
<div class="abs" style="left:826.5px;top:359px;width:1.5px;height:100px;background:#55585e"></div>
<div class="abs" style="left:0;top:457.6px;width:828px;height:1.4px;background:#c8cbd0"></div>
</body></html>
